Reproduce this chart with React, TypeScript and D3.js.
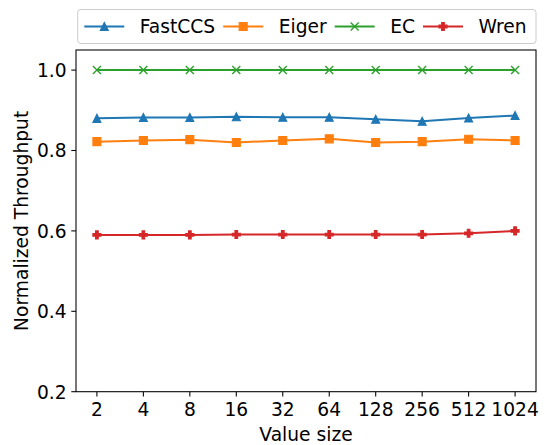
import { useEffect, useRef } from 'react';
import * as d3 from 'd3';

const valueSizes = ['2', '4', '8', '16', '32', '64', '128', '256', '512', '1024'];
const fastccs = [0.880, 0.882, 0.882, 0.884, 0.883, 0.883, 0.878, 0.873, 0.881, 0.887];
const eiger = [0.822, 0.825, 0.827, 0.820, 0.825, 0.829, 0.820, 0.822, 0.828, 0.825];
const ec = [1.0, 1.0, 1.0, 1.0, 1.0, 1.0, 1.0, 1.0, 1.0, 1.0];
const wren = [0.590, 0.590, 0.590, 0.591, 0.591, 0.591, 0.591, 0.591, 0.594, 0.600];
const yTicks = [0.2, 0.4, 0.6, 0.8, 1.0];

const seriesNames = ['FastCCS', 'Eiger', 'EC', 'Wren'];
const seriesColors = ['#1f77b4', '#ff7f0e', '#2ca02c', '#d62728'];
const seriesMarkers = ['triangle', 'square', 'x', 'plus'];

const W = 548;
const H = 445;
const FONT = '"DejaVu Sans", sans-serif';
const FS = 18.67;

function markerPath(kind: string) {
  const s = 4;
  if (kind === 'triangle') return `M0,${-s}L${s},${s}L${-s},${s}Z`;
  if (kind === 'square') return `M${-s},${-s}H${s}V${s}H${-s}Z`;
  if (kind === 'x') return `M${-s},${-s}L${s},${s}M${-s},${s}L${s},${-s}`;
  const a = s / 3;
  return `M${-a},${-s}H${a}V${-a}H${s}V${a}H${a}V${s}H${-a}V${a}H${-s}V${-a}H${-a}Z`;
}

function drawMarker(g: any, kind: string, color: string) {
  g.append('path')
    .attr('d', markerPath(kind))
    .attr('fill', kind === 'x' ? 'none' : color)
    .attr('stroke', color)
    .attr('stroke-width', kind === 'x' ? 1.4 : 1.1)
    .attr('stroke-linejoin', 'miter');
}

export default function App() {
  const ref = useRef<SVGSVGElement>(null);

  useEffect(() => {
    const svg = d3.select(ref.current);
    svg.selectAll('*').remove();

    const left = 76, right = 536, top = 50, bottom = 391.7;

    const x = d3.scaleLinear().domain([-0.45, 9.45]).range([left, right]);
    const y = d3.scaleLinear().domain([0.2, 1.05]).range([bottom, top]);

    const data = [fastccs, eiger, ec, wren];

    // lines and markers
    data.forEach((vals, si) => {
      const line = d3.line<number>()
        .x((d, i) => x(i))
        .y(d => y(d));
      svg.append('path')
        .datum(vals)
        .attr('fill', 'none')
        .attr('stroke', seriesColors[si])
        .attr('stroke-width', 2)
        .attr('d', line);
      vals.forEach((v, i) => {
        const g = svg.append('g').attr('transform', `translate(${x(i)},${y(v)})`);
        drawMarker(g, seriesMarkers[si], seriesColors[si]);
      });
    });

    // frame
    svg.append('rect')
      .attr('x', left)
      .attr('y', top)
      .attr('width', right - left)
      .attr('height', bottom - top)
      .attr('fill', 'none')
      .attr('stroke', '#000')
      .attr('stroke-width', 1.07);

    // x ticks
    valueSizes.forEach((label, i) => {
      svg.append('line')
        .attr('x1', x(i)).attr('x2', x(i))
        .attr('y1', bottom).attr('y2', bottom + 4.7)
        .attr('stroke', '#000').attr('stroke-width', 1.07);
      svg.append('text')
        .attr('x', x(i))
        .attr('y', 416)
        .attr('text-anchor', 'middle')
        .attr('font-family', FONT)
        .attr('font-size', FS)
        .attr('fill', '#000')
        .text(label);
    });

    // y ticks
    yTicks.forEach(t => {
      svg.append('line')
        .attr('x1', left - 4.7).attr('x2', left)
        .attr('y1', y(t)).attr('y2', y(t))
        .attr('stroke', '#000').attr('stroke-width', 1.07);
      svg.append('text')
        .attr('x', left - 9.4)
        .attr('y', y(t) + 6.8)
        .attr('text-anchor', 'end')
        .attr('font-family', FONT)
        .attr('font-size', FS)
        .attr('fill', '#000')
        .text(t.toFixed(1));
    });

    // axis labels
    svg.append('text')
      .attr('x', (left + right) / 2)
      .attr('y', 441)
      .attr('text-anchor', 'middle')
      .attr('font-family', FONT)
      .attr('font-size', FS)
      .text('Value size');

    svg.append('text')
      .attr('transform', `translate(28,${(top + bottom) / 2}) rotate(-90)`)
      .attr('text-anchor', 'middle')
      .attr('font-family', FONT)
      .attr('font-size', FS)
      .text('Normalized Throughput');

    // legend
    const lx = 77.7, ly = 9.5, lw = 536 - 77.7, lh = 34;
    const legend = svg.append('g');
    legend.append('rect')
      .attr('x', lx).attr('y', ly)
      .attr('width', lw).attr('height', lh)
      .attr('rx', 3)
      .attr('fill', '#fff').attr('fill-opacity', 0.8)
      .attr('stroke', '#cccccc').attr('stroke-width', 1);

    let cx = lx + 6.6;
    const cy = ly + lh / 2;
    seriesNames.forEach((name, si) => {
      legend.append('line')
        .attr('x1', cx).attr('x2', cx + 40)
        .attr('y1', cy).attr('y2', cy)
        .attr('stroke', seriesColors[si]).attr('stroke-width', 2);
      const mg = legend.append('g').attr('transform', `translate(${cx + 20},${cy})`);
      drawMarker(mg, seriesMarkers[si], seriesColors[si]);
      const txt = legend.append('text')
        .attr('x', cx + 55.5)
        .attr('y', cy + 6.8)
        .attr('font-family', FONT)
        .attr('font-size', FS)
        .attr('fill', '#000')
        .text(name);
      const tw = (txt.node() as SVGTextElement).getComputedTextLength();
      cx = cx + 55.5 + tw + 8;
    });
  }, []);

  return (
    <svg
      ref={ref}
      width={W}
      height={H}
      style={{ position: 'absolute', left: 0, top: 0, background: '#fff' }}
    />
  );
}
